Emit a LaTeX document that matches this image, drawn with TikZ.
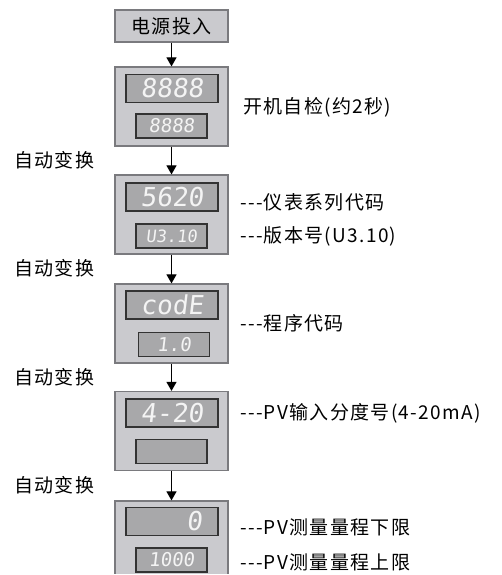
\documentclass[tikz,border=0pt]{standalone}
\usepackage{fontspec}
\usepackage{tikz}
\usetikzlibrary{arrows.meta}
\newfontfamily\cjk[LetterSpace=7]{Noto Sans CJK SC}
\newfontfamily\segfont[FakeSlant=0.12]{DejaVu Sans Mono}
\definecolor{panelfill}{HTML}{CACACE}
\definecolor{panelline}{HTML}{7A7A7E}
\definecolor{dispfill}{HTML}{A8A8AA}
\definecolor{displine}{HTML}{333333}
\definecolor{segcolor}{HTML}{F4F4F4}
\tikzstyle{panel} = [draw=panelline, fill=panelfill, line width=1.2pt, inner sep=0pt, minimum width=113pt, minimum height=79pt]
\tikzstyle{disp} = [draw=displine, fill=dispfill, line width=1.2pt, inner sep=0pt, text=segcolor]
\tikzstyle{updisp} = [disp, minimum width=92pt, minimum height=28pt, font=\segfont\fontsize{26}{26}\selectfont]
\tikzstyle{lowdisp} = [disp, minimum width=71pt, minimum height=24pt, font=\segfont\fontsize{19}{19}\selectfont]
\tikzstyle{note} = [anchor=west, inner sep=0pt, font=\cjk\fontsize{19}{19}\selectfont]
\tikzstyle{flow} = [draw, line width=1.1pt, -{Triangle[width=10pt,length=9pt]}]

\begin{document}
\begin{tikzpicture}[x=1pt, y=-1pt]
        \useasboundingbox (0,0) rectangle (501,575);
        \clip (0,0) rectangle (501,573);

        \node[panel, minimum height=32pt, font=\cjk\fontsize{19}{19}\selectfont] (power) at (171.5,26) {电源投入};

        \node[panel] (test) at (171.5,106.5) {};
        \node[updisp] (testup) at (172,88.5) {8888};
        \node[lowdisp] (testlow) at (171.5,126) {8888};
        \node[note] (testnote) at (243,107) {开机自检(约2秒)};

        \node[panel] (model) at (171.5,214.5) {};
        \node[updisp] (modelup) at (172,197) {5620};
        \node[lowdisp, font=\segfont\fontsize{17}{17}\selectfont] (modellow) at (171.5,236) {U3.10};
        \node[note] (modelnote) at (240,202) {-{}-{}-仪表系列代码};
        \node[note] (versionnote) at (240,236) {-{}-{}-版本号(U3.10)};

        \node[panel] (prog) at (171.5,323.5) {};
        \node[updisp] (progup) at (172,305) {codE};
        \node[lowdisp] (proglow) at (174,344.5) {1.0};
        \node[note] (prognote) at (240,323) {-{}-{}-程序代码};

        \node[panel] (input) at (171.5,431) {};
        \node[updisp] (inputup) at (172,413) {4-20};
        \node[lowdisp] (inputlow) at (171.5,451.5) {};
        \node[note] (inputnote) at (240,413) {-{}-{}-PV输入分度号(4-20mA)};

        \node[panel] (range) at (171.5,540.5) {};
        \node[updisp, text width=60pt, align=right] (rangeup) at (172,521.5) {0};
        \node[lowdisp] (rangelow) at (171.5,560) {1000};
        \node[note] (lownote) at (240,527) {-{}-{}-PV测量量程下限};
        \node[note] (highnote) at (240,562) {-{}-{}-PV测量量程上限};

        \draw[flow] (power.south) -- (test.north);
        \draw[flow] (test.south) -- (model.north);
        \draw[flow] (model.south) -- (prog.north);
        \draw[flow] (prog.south) -- (input.north);
        \draw[flow] (input.south) -- (range.north);

        \node[note] (auto1) at (14,160) {自动变换};
        \node[note] (auto2) at (14,268) {自动变换};
        \node[note] (auto3) at (14,377) {自动变换};
        \node[note] (auto4) at (14,485) {自动变换};
\end{tikzpicture}
\end{document}
